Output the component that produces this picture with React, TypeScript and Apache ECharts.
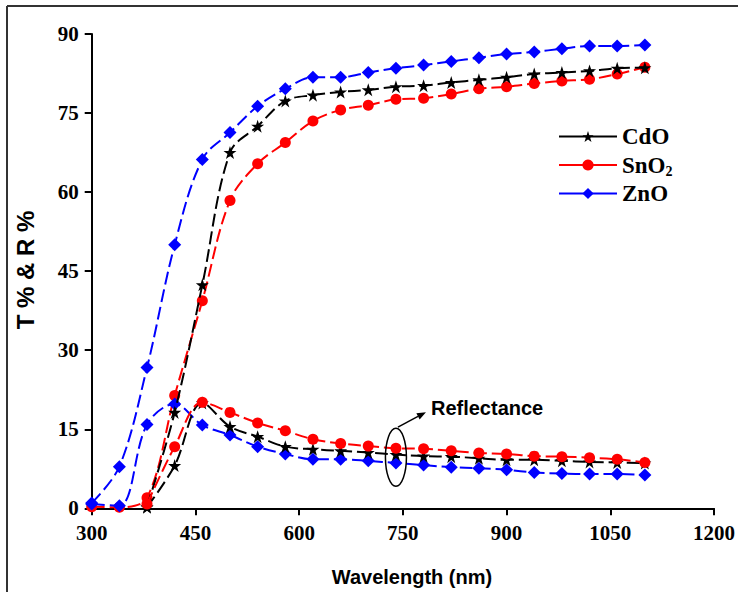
import React, { useEffect, useRef } from "react";
import * as echarts from "echarts";

const wavelengths = [300, 340, 380, 420, 460, 500, 540, 580, 620, 660, 700, 740, 780, 820, 860, 900, 940, 980, 1020, 1060, 1100];
const cdoT = [null, null, 0.3, 18.2, 42.4, 67.5, 72.5, 77.3, 78.4, 79.0, 79.4, 80.0, 80.2, 80.8, 81.3, 81.8, 82.4, 82.7, 83.0, 83.5, 83.6];
const cdoR = [null, null, 0.2, 8.1, 20.0, 15.5, 13.6, 11.7, 11.2, 10.9, 10.6, 10.2, 9.9, 9.8, 9.5, 9.2, 9.2, 9.0, 8.8, 8.7, 8.6];
const snT = [0.3, 0.2, 2.0, 21.4, 39.4, 58.4, 65.4, 69.4, 73.5, 75.6, 76.5, 77.6, 77.8, 78.6, 79.6, 80.0, 80.6, 81.1, 81.4, 82.4, 83.7];
const snR = [null, null, 0.8, 11.7, 20.1, 18.2, 16.2, 14.7, 13.1, 12.3, 11.8, 11.4, 11.3, 10.9, 10.5, 10.3, 9.9, 9.8, 9.6, 9.3, 8.7];
const znT = [1.0, 7.9, 26.7, 50.0, 66.2, 71.3, 76.3, 79.6, 81.8, 81.8, 82.7, 83.5, 84.1, 84.8, 85.5, 86.2, 86.6, 87.2, 87.7, 87.7, 87.9];
const znR = [0.8, 0.5, 15.9, 19.8, 15.8, 13.9, 11.7, 10.3, 9.3, 9.3, 9.0, 8.6, 8.2, 7.8, 7.6, 7.3, 6.8, 6.6, 6.5, 6.5, 6.3];

const legendNames = ["CdO", "SnO2", "ZnO"];
const xTitle = "Wavelength (nm)";
const yTitle = "T % & R %";
const annotation = "Reflectance";

const STAR = "path://M50,0 L61.8,35.5 L99,35.5 L69,57.5 L80.5,93 L50,71 L19.5,93 L31,57.5 L1,35.5 L38.2,35.5 Z";

const pairs = (vals: (number | null)[]) =>
  wavelengths.map((w, i) => [w, vals[i]]).filter((p) => p[1] !== null);

export default function App() {
  const ref = useRef<HTMLDivElement>(null);
  useEffect(() => {
    if (!ref.current) return;
    const chart = echarts.init(ref.current, null, { renderer: "svg" });
    const serif = "'Liberation Serif', 'Times New Roman', serif";
    const sans = "'Liberation Sans', Arial, sans-serif";
    const mk = (name: string, data: any[], color: string, symbol: string, size: number, z: number) => ({
      type: "line",
      name,
      data,
      smooth: 0.35,
      symbol,
      symbolSize: size,
      z,
      itemStyle: { color },
      lineStyle: { color, width: 2, type: [13, 5] },
    });
    chart.setOption({
      animation: false,
      backgroundColor: "#ffffff",
      grid: { left: 91.7, right: 24, top: 34, bottom: 83.7 },
      xAxis: {
        type: "value",
        min: 300,
        max: 1200,
        interval: 150,
        splitLine: { show: false },
        axisLine: { lineStyle: { color: "#000", width: 2 } },
        axisTick: { length: 7, lineStyle: { color: "#000", width: 2 } },
        axisLabel: {
          color: "#000",
          fontFamily: serif,
          fontWeight: "bold",
          fontSize: 21,
          margin: 14,
          formatter: (v: number) => String(v),
        },
      },
      yAxis: {
        type: "value",
        min: 0,
        max: 90,
        interval: 15,
        splitLine: { show: false },
        axisLine: { show: true, lineStyle: { color: "#000", width: 2 } },
        axisTick: { show: true, length: 7, lineStyle: { color: "#000", width: 2 } },
        axisLabel: { color: "#000", fontFamily: serif, fontWeight: "bold", fontSize: 21, margin: 13 },
      },
      legend: {
        orient: "vertical",
        left: 553,
        top: 120,
        itemWidth: 58,
        itemHeight: 14,
        itemGap: 4,
        data: legendNames,
        lineStyle: { type: "solid", width: 2 },
        formatter: (n: string) => (n === "SnO2" ? "{a|SnO}{s|2}" : "{a|" + n + "}"),
        textStyle: {
          color: "#000",
          rich: {
            a: { fontFamily: serif, fontWeight: "bold", fontSize: 23, color: "#000", lineHeight: 26 },
            s: { fontFamily: serif, fontWeight: "bold", fontSize: 14, color: "#000", lineHeight: 26, padding: [12, 0, 0, 0] },
          },
        },
      },
      series: [
        mk("CdO", pairs(cdoT), "#000000", STAR, 13, 3),
        mk("SnO2", pairs(snT), "#ff0000", "circle", 11, 2),
        mk("ZnO", pairs(znT), "#0000ff", "diamond", 13, 4),
        mk("CdO", pairs(cdoR), "#000000", STAR, 13, 3),
        mk("SnO2", pairs(snR), "#ff0000", "circle", 11, 4),
        mk("ZnO", pairs(znR), "#0000ff", "diamond", 13, 2),
      ],
    });
    const c = chart.convertToPixel({ gridIndex: 0 }, [740, 9.7]) as number[];
    const cx = c[0];
    const cy = c[1];
    const tip = [cx + 30, cy - 45];
    const base = [cx + 2, cy - 30];
    const ang = Math.atan2(tip[1] - base[1], tip[0] - base[0]);
    const hl = 9;
    const hw = 3.5;
    const bx = tip[0] - hl * Math.cos(ang);
    const by = tip[1] - hl * Math.sin(ang);
    chart.setOption({
      graphic: [
        { type: "line", shape: { x1: 7, y1: 6, x2: 738, y2: 6 }, style: { stroke: "#333", lineWidth: 2 } },
        { type: "line", shape: { x1: 7, y1: 6, x2: 7, y2: 592 }, style: { stroke: "#333", lineWidth: 2 } },
        {
          type: "text",
          x: 412,
          y: 577,
          style: { text: xTitle, fontFamily: sans, fontWeight: "bold", fontSize: 20, fill: "#000", align: "center", verticalAlign: "middle" },
        },
        {
          type: "text",
          x: 25,
          y: 270,
          rotation: Math.PI / 2,
          style: { text: yTitle, fontFamily: sans, fontWeight: "bold", fontSize: 24, fill: "#000", align: "center", verticalAlign: "middle" },
        },
        { type: "ellipse", shape: { cx, cy, rx: 10.5, ry: 29 }, style: { fill: "none", stroke: "#000", lineWidth: 1.5 }, z: 10 },
        { type: "line", shape: { x1: base[0], y1: base[1], x2: bx, y2: by }, style: { stroke: "#000", lineWidth: 1.5 }, z: 10 },
        {
          type: "polygon",
          shape: {
            points: [
              tip,
              [bx + hw * Math.sin(ang), by - hw * Math.cos(ang)],
              [bx - hw * Math.sin(ang), by + hw * Math.cos(ang)],
            ],
          },
          style: { fill: "#000" },
          z: 10,
        },
        {
          type: "text",
          x: cx + 35,
          y: cy - 49,
          style: { text: annotation, fontFamily: sans, fontWeight: "bold", fontSize: 20, fill: "#000", align: "left", verticalAlign: "middle" },
          z: 10,
        },
      ],
    });
    return () => chart.dispose();
  }, []);
  return <div ref={ref} style={{ position: "fixed", left: 0, top: 0, width: 738, height: 592 }} />;
}
